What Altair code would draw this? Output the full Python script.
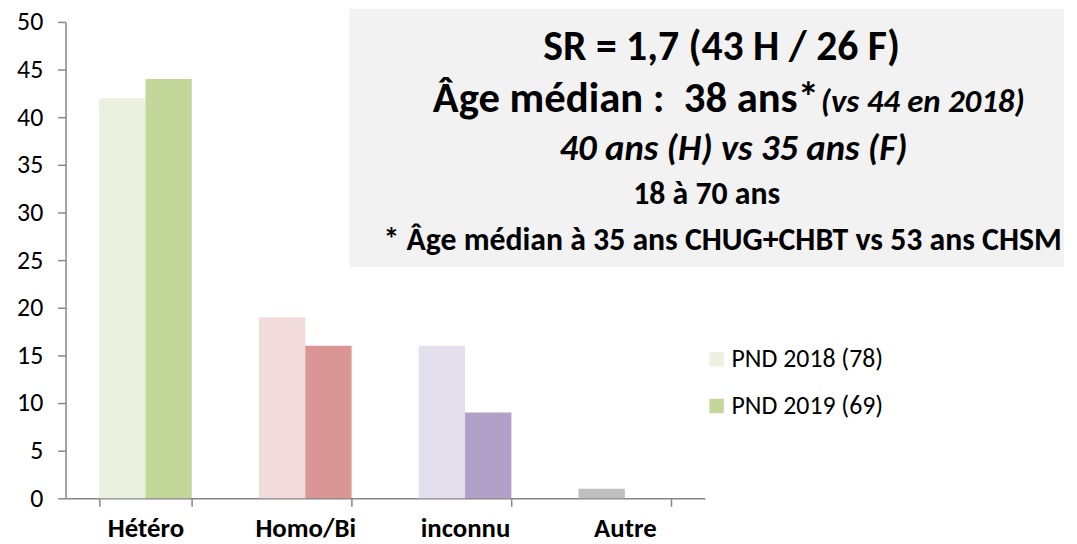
import altair as alt
import pandas as pd

categories = ["Hétéro", "Homo/Bi", "inconnu", "Autre"]
values_2018 = [42, 19, 16, 1]
values_2019 = [44, 16, 9, 0]
colors_2018 = ["#EBF1DE", "#F2DCDB", "#E4DFEC", "#BFBFBF"]
colors_2019 = ["#C4D79B", "#DA9694", "#B1A0C7", "#BFBFBF"]
series = ["PND 2018 (78)", "PND 2019 (69)"]
legend_colors = ["#EBF1DE", "#C4D79B"]
y_ticks = [0, 5, 10, 15, 20, 25, 30, 35, 40, 45, 50]

FONT = "Carlito, Lato, Open Sans, sans-serif"

rows = []
for i, c in enumerate(categories):
    rows.append({"cat": c, "serie": series[0], "val": values_2018[i], "col": colors_2018[i]})
    rows.append({"cat": c, "serie": series[1], "val": values_2019[i], "col": colors_2019[i]})
df = pd.DataFrame(rows)

W, H = 644, 480

y_axis = alt.Axis(values=y_ticks, labelFontSize=26, labelFont=FONT, labelPadding=15,
                  labelColor="#000000")

bars = alt.Chart(df).mark_bar().encode(
    x=alt.X("cat:N", sort=categories, title=None,
            scale=alt.Scale(paddingInner=0.42, paddingOuter=0.21)),
    xOffset=alt.XOffset("serie:N", sort=series, scale=alt.Scale(paddingInner=0, paddingOuter=0)),
    y=alt.Y("val:Q", title=None, scale=alt.Scale(domain=[0, 50], nice=False), axis=y_axis),
    color=alt.Color("col:N", scale=None, legend=None),
)

leg_df = pd.DataFrame({"cat": ["Hétéro", "Hétéro"], "serie": series, "val": [0, 0]})
legend_layer = alt.Chart(leg_df).mark_square(opacity=0).encode(
    x=alt.X("cat:N", sort=categories, title=None),
    y=alt.Y("val:Q", title=None, axis=y_axis),
    fill=alt.Fill("serie:N", sort=series,
                  scale=alt.Scale(domain=series, range=legend_colors),
                  legend=alt.Legend(title=None, orient="none", legendX=643, legendY=327,
                                    symbolType="square", symbolSize=210, symbolOpacity=1,
                                    symbolStrokeWidth=0, labelFont=FONT, labelFontSize=26,
                                    labelColor="#000000", rowPadding=21, labelOffset=2)),
)

box_df = pd.DataFrame({"x": [286], "x2": [1006], "y": [-13], "y2": [247]})
box = alt.Chart(box_df).mark_rect(color="#F2F2F2").encode(
    x=alt.X("x:Q", scale=None), x2="x2", y=alt.Y("y:Q", scale=None), y2="y2")

def txt(text, x, y, size, italic=False, align="center"):
    d = pd.DataFrame({"t": [text]})
    return alt.Chart(d).mark_text(
        font=FONT, fontSize=size, fontWeight="bold",
        fontStyle="italic" if italic else "normal",
        align=align, baseline="middle", color="#000000",
    ).encode(x=alt.value(x), y=alt.value(y), text="t:N")

texts = [
    txt("SR = 1,7 (43 H / 26 F)", 661, 25, 42),
    txt("Âge médian :\u00a0 38 ans*", 759, 78, 43, align="right"),
    txt("(vs 44 en 2018)", 761, 81, 33, italic=True, align="left"),
    txt("40 ans (H) vs 35 ans (F)", 673, 128, 37, italic=True),
    txt("18 à 70 ans", 646, 173, 32),
    txt("* Âge médian à 35 ans CHUG+CHBT vs 53 ans CHSM", 662, 220, 32),
]

chart = alt.layer(box, bars, legend_layer, *texts).properties(
    width=W, height=H,
    autosize=alt.AutoSizeParams(type="none"),
    padding={"left": 58, "top": 12, "right": 367, "bottom": 44},
).configure(background="#FFFFFF").configure_view(
    stroke=None, strokeWidth=0
).configure_axis(
    grid=False, labelFont=FONT, labelColor="#000000", tickColor="#868686",
    domainColor="#868686", domainWidth=1.5, tickWidth=1.5, tickSize=8,
).configure_axisX(
    labelFontSize=27, labelFontWeight="bold", labelAngle=0, labelPadding=30,
    labelBaseline="alphabetic", tickBand="extent",
)

chart.save("out.html", embed_options={"renderer": "svg", "actions": False})
